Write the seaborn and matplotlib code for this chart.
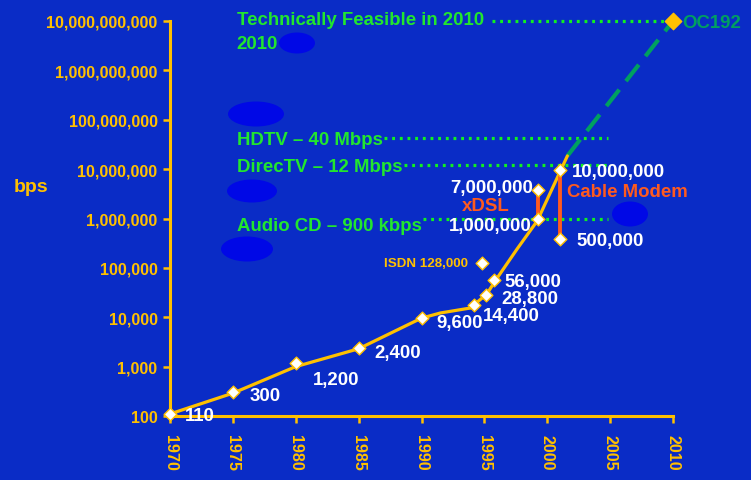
import matplotlib
matplotlib.use("Agg")
import matplotlib.pyplot as plt
import matplotlib.ticker as mticker
from matplotlib.patches import Ellipse
import numpy as np
import pandas as pd
import seaborn as sns

# ---------------- data ----------------
line_years = [1970, 1975, 1980, 1985, 1990, 1991.5, 1993.9, 1994.25, 1995.2, 1995.85, 1997.6, 1999.2, 2001.6]
line_bps = [110, 290, 1000, 2300, 9600, 12200, 15400, 18500, 29600, 54000, 241000, 890000, 1.85e7]

dot_years = [1970, 1975, 1980, 1985, 1990, 1994.2, 1995.1, 1995.8]
dot_bps = [110, 300, 1200, 2400, 9600, 18000, 28800, 56000]
dot_labels = ["110", "300", "1,200", "2,400", "9,600", "14,400", "28,800", "56,000"]

isdn_year, isdn_bps = 1994.8, 128000

xdsl_year = 1999.3
xdsl_bps = [980000, 3800000]
xdsl_labels = ["1,000,000", "7,000,000"]

cable_year = 2001.0
cable_bps = [380000, 9500000]
cable_labels = ["500,000", "10,000,000"]

future_years = [2001.6, 2010]
future_bps = [1.85e7, 1e10]

ref_labels = ["Technically Feasible in 2010", "HDTV \u2013 40 Mbps", "DirecTV \u2013 12 Mbps", "Audio CD \u2013 900 kbps"]
ref_bps = [1e10, 4.2e7, 1.2e7, 1e6]
ref_start = [1995.6, 1987.0, 1988.6, 1990.1]
ref_end = [2010, 2004.8, 2004.8, 2004.8]

x_ticks = list(range(1970, 2011, 5))
y_ticks = [1e2, 1e3, 1e4, 1e5, 1e6, 1e7, 1e8, 1e9, 1e10]

# ---------------- style ----------------
BG = "#0a2cc6"
GOLD = "#ffc000"
GREEN = "#22e62e"
DGREEN = "#00a060"
RED = "#ff5a1e"

sns.set_theme(style="ticks")
plt.rcParams["font.family"] = ["Liberation Sans", "DejaVu Sans"]
plt.rcParams["font.weight"] = "bold"

fig = plt.figure(figsize=(7.51, 4.81), dpi=100, facecolor=BG)
ax = fig.add_axes([170 / 751, 1 - 417 / 481, 503 / 751, 395 / 481])
ax.set_facecolor(BG)

# background blobs
for (cx, cy, w, h) in [(297, 44, 36, 21), (256, 115, 56, 25), (252, 192, 50, 23), (247, 250, 52, 25), (630, 215, 36, 25)]:
    fig.patches.append(Ellipse((cx / 751, 1 - cy / 481), w / 751, h / 481, transform=fig.transFigure,
                               facecolor="#0008e6", edgecolor="none", zorder=0.5))

ax.set_yscale("log")
ax.set_xlim(1970, 2010)
ax.set_ylim(100, 1e10)

# reference dotted lines
for lab, v, s, e in zip(ref_labels, ref_bps, ref_start, ref_end):
    ax.plot([s, e], [v, v], color="#10f020", lw=2.3, linestyle=(0, (0.9, 1.5)), zorder=2, clip_on=False)

# future green dashed
sns.lineplot(x=future_years, y=future_bps, ax=ax, color=DGREEN, lw=3, linestyle=(0, (5, 2.6)), zorder=3)

# main line
sns.lineplot(x=line_years, y=line_bps, ax=ax, color=GOLD, lw=2.3, zorder=4, sort=False)

# xDSL and cable vertical bars
ax.plot([xdsl_year, xdsl_year], xdsl_bps, color=RED, lw=2.8, zorder=5)
ax.plot([cable_year, cable_year], cable_bps, color=RED, lw=2.8, zorder=5)

# diamonds
all_x = dot_years + [isdn_year] + [xdsl_year] * 2 + [cable_year] * 2
all_y = dot_bps + [isdn_bps] + xdsl_bps + cable_bps
sns.scatterplot(x=all_x, y=all_y, ax=ax, marker="D", s=42, color="white", edgecolor=GOLD,
                linewidth=1.0, zorder=6, clip_on=False)
ax.scatter([2010], [1e10], marker="D", s=70, color=GOLD, edgecolor=GOLD, zorder=6, clip_on=False)

# axes styling
for sp in ["top", "right"]:
    ax.spines[sp].set_visible(False)
for sp in ["left", "bottom"]:
    ax.spines[sp].set_color(GOLD)
    ax.spines[sp].set_linewidth(2.2)
ax.set_xticks(x_ticks)
ax.set_xticklabels([str(t) for t in x_ticks], rotation=-90, va="top", ha="center")
ax.set_yticks(y_ticks)
ax.yaxis.set_major_formatter(mticker.FuncFormatter(lambda v, p: f"{int(round(v)):,}"))
ax.yaxis.set_minor_locator(mticker.NullLocator())
ax.tick_params(axis="both", colors=GOLD, labelcolor=GOLD, width=1.8, length=5, direction="out",
               labelsize=11.6)
ax.tick_params(axis="x", pad=8)
ax.tick_params(axis="y", pad=4)
for t in ax.get_xticklabels() + ax.get_yticklabels():
    t.set_fontweight("bold")
ax.set_xlabel("")
ax.set_ylabel("")
fig.text(14 / 751, 1 - 187 / 481, "bps", color=GOLD, fontsize=14, fontweight="bold", va="center", ha="left")

# data labels
FS = 13.4
kw = dict(color="white", fontsize=FS, fontweight="bold", va="center", ha="left", zorder=7)
offsets = [(11, -1), (12, -2), (12, -12), (11, -3), (11, -3), (6, -8), (11, -3), (7, -1)]
for x, y, lab, off in zip(dot_years, dot_bps, dot_labels, offsets):
    ax.annotate(lab, (x, y), xytext=off, textcoords="offset points", **kw)

ax.annotate("ISDN 128,000", (isdn_year, isdn_bps), xytext=(-10, 0), textcoords="offset points",
            color=GOLD, fontsize=9.6, fontweight="bold", va="center", ha="right")

ax.annotate(xdsl_labels[1], (xdsl_year, xdsl_bps[1]), xytext=(-4, 2), textcoords="offset points",
            **{**kw, "ha": "right"})
ax.annotate(xdsl_labels[0], (xdsl_year, xdsl_bps[0]), xytext=(-5, -5), textcoords="offset points",
            **{**kw, "ha": "right"})
ax.annotate("xDSL", (xdsl_year, xdsl_bps[1]), xytext=(-21, -11), textcoords="offset points",
            color=RED, fontsize=FS, fontweight="bold", va="center", ha="right")

ax.annotate(cable_labels[1], (cable_year, cable_bps[1]), xytext=(9, -1), textcoords="offset points", **kw)
ax.annotate("Cable Modem", (cable_year, cable_bps[1]), xytext=(5, -15), textcoords="offset points",
            color=RED, fontsize=FS, fontweight="bold", va="center", ha="left")
ax.annotate(cable_labels[0], (cable_year, cable_bps[0]), xytext=(12, -1), textcoords="offset points", **kw)

ax.annotate("OC192", (2010, 1e10), xytext=(7, -1), textcoords="offset points",
            color=DGREEN, fontsize=FS, fontweight="bold", va="center", ha="left", annotation_clip=False)

# reference labels
gkw = dict(color=GREEN, fontsize=FS, fontweight="bold", va="center", ha="left")
ax.annotate(ref_labels[0], (1975.3, ref_bps[0]), xytext=(0, 1), textcoords="offset points", annotation_clip=False, **gkw)
ax.annotate("2010", (1975.3, ref_bps[0]), xytext=(0, -16), textcoords="offset points", annotation_clip=False, **gkw)
ax.annotate(ref_labels[1], (1975.3, ref_bps[1]), xytext=(0, -1), textcoords="offset points", **gkw)
ax.annotate(ref_labels[2], (1975.3, ref_bps[2]), xytext=(0, -1), textcoords="offset points", **gkw)
ax.annotate(ref_labels[3], (1975.3, ref_bps[3]), xytext=(0, -5), textcoords="offset points", **gkw)

fig.savefig("out.png", dpi=100, facecolor=BG)
